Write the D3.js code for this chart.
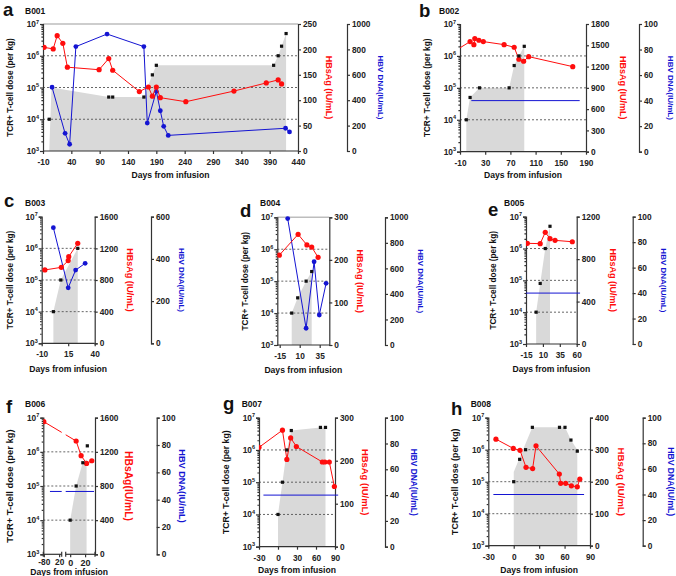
<!DOCTYPE html>
<html>
<head>
<meta charset="utf-8">
<script src="https://cdn.jsdelivr.net/npm/d3@7"></script>
<style>
  body { margin: 0; background: #fff; }
  svg { display: block; }
  text { font-family: "Liberation Sans", Arial, sans-serif; }
</style>
</head>
<body>
<div id="canvas"></div>
<script>
// ---- data: [day, value] pairs ----
// B001
const doseB001  = [[1,1e4],[106,5e4],[113,5e4],[168,5e4],[183,2.5e5],[190,5e5],[397,5e5],[405,1e6],[411,2e6],[419,5e6]];
const areaB001  = [[1,1e3],[5,1e5],[106,5e4],[168,5e4],[183,2.5e5],[190,5e5],[397,5e5],[405,1e6],[411,2e6],[419,5e6],[419,1e3]];
const hbsagB001 = [[-8,204],[8,201],[15,227],[25,212],[33,165],[89,160],[106,182],[113,159],[160,117],[176,126],[183,108],[190,126],[197,105],[242,97],[327,118],[384,134],[405,140],[411,132]];
const hbvB001   = [[6,502],[29,139],[37,53],[48,822],[103,921],[168,822],[174,220],[190,470],[197,317],[203,194],[211,123],[418,179],[425,150]];
// B002
const doseB002  = [[0,1e4],[6,5e4],[21,1e5],[68,1e5],[76,5e5],[83.5,1e6],[92,2e6]];
const areaB002  = [[0,1e3],[0,1e4],[6,5e4],[21,1e5],[68,1e5],[76,5e5],[83.5,1e6],[92,2e6],[92,1e3]];
const hbsagB002 = [[-20,1410],[6,1552],[12,1509],[13.5,1594],[20,1571],[27,1552],[60,1509],[76,1472],[83.5,1303],[91,1275],[99,1340],[169,1199]];
const hbvB002   = [[8,40],[180,40]];
// B003
const doseB003  = [[1,1e4],[8,1e5],[24,1e6]];
const areaB003  = [[1,1e3],[1,1e4],[8,1e5],[24,1e6],[24,1e3]];
const hbsagB003 = [[-7,927],[8.5,960],[15,1045],[15.5,1095],[24,1264]];
const hbvB003   = [[1,548],[15,263],[22,347],[31,379]];
// B004
const doseB004  = [[0,1e4],[7.5,3e4],[18,1e5],[25,2e5]];
const areaB004  = [[0,1e3],[0,1e4],[7.5,3e4],[18,1e5],[25,2e5],[25,1e3]];
const hbsagB004 = [[-15.5,211],[8,260],[19,235],[25,230],[33,206]];
const hbvB004   = [[-5,990],[18,131],[28,652],[34.5,235],[43,483]];
// B005
const doseB005  = [[0,1e4],[6,8e4],[13.5,1e6],[20.5,5e6]];
const areaB005  = [[0,1e3],[0,1e4],[6,8e4],[13.5,1e6],[20.5,5e6],[20.5,1e3]];
const hbsagB005 = [[-13,949],[6,946],[13.5,1053],[20.5,993],[28,977],[53.5,964]];
const hbvB005   = [[-15,40],[65,40]];
// B006
const doseB006  = [[0,1e4],[8,1e5],[17,4.8e5],[23,1.5e6]];
const areaB006  = [[0,1e3],[0,1e4],[8,1e5],[17,5e5],[22,6e5],[22,1e3]];
const hbsagB006 = [[-80,1553],[8,1327],[14.7,1155],[22,1065],[29,1096]];
const hbvB006   = [[-56,46],[32,46]];
// B007
const doseB007  = [[0,1e4],[7,1e5],[14,1e6],[21,4e6],[67,5e6],[75,5e6]];
const areaB007  = [[0,1e3],[0,1e4],[7,1e5],[14,1e6],[21,4e6],[67,5e6],[75,5e6],[75,1e3]];
const hbsagB007 = [[-30,231],[7,271],[14,203],[20,253],[29,233],[70,197],[74,197],[81,197],[89,140]];
const hbvB007   = [[-23,40],[95,40]];
// B008
const doseB008  = [[0,1e5],[7,5e5],[14,1e6],[22,5e6],[54,5e6],[60.5,5e6],[67.5,2e6],[75,9e5]];
const areaB008  = [[0,1e3],[0,2e5],[22,5e6],[60.5,5e6],[67.5,2e6],[75,1e6],[75,1e3]];
const hbsagB008 = [[-21,333],[-0.5,304],[7.4,298],[14.5,245],[22.3,241],[26.3,312],[53.8,224],[55.4,195],[61.3,195],[68,187],[75,184],[78,208]];
const hbvB008   = [[-24,40],[83,40]];

// ---- tick values / labels ----
const xTicksB001 = [-10,40,90,140,190,240,290,340,390,440];
const xTicksB002 = [-10,30,70,110,150,190];
const xTicksB003 = [-10,15,40];
const xTicksB004 = [-15,10,35];
const xTicksB005 = [-15,10,35,60];
const xTicksB006 = [-80,-20,0,20];
const xTickLabelsB006 = ["-80","20","0","20"];
const xTicksB007 = [-30,0,30,60,90];
const xTicksB008 = [-30,0,30,60,90];

const sTicksB001 = [0,50,100,150,200,250];
const sTicksB002 = [0,300,600,900,1200,1500,1800];
const sTicksB003 = [0,400,800,1200,1600];
const sTicksB004 = [0,100,200,300];
const sTicksB005 = [0,400,800,1200];
const sTicksB006 = [0,400,800,1200,1600];
const sTicksB007 = [0,100,200,300];
const sTicksB008 = [0,100,200,300,400];

const vTicks1000 = [0,200,400,600,800,1000];
const vTicks600  = [0,200,400,600];
const vTicks100  = [0,20,40,60,80,100];

const decades = [1e3,1e4,1e5,1e6,1e7];
const gridDecades = [1e4,1e5,1e6];

// ---- panel layout ----
const panels = [
  {id:"B001", letter:"a", lx:3, ly:15.5, tx:25, ty:13.5, xDomain:[-10,440], xRange:[43,298], y0:24, y1:151,
   hbvX:347, yLabX:10.3, sLabX:329, vLabX:380.3, xLabY:178, topLine:true,
   dose:doseB001, area:areaB001, hbsag:hbsagB001, hbv:hbvB001, xTicks:xTicksB001, sTicks:sTicksB001, vTicks:vTicks1000},
  {id:"B002", letter:"b", lx:419, ly:17, tx:439, ty:13.5, xDomain:[-10,190], xRange:[460,586], y0:24, y1:151.7,
   hbvX:639, yLabX:427.3, sLabX:623, vLabX:670, xLabY:178,
   dose:doseB002, area:areaB002, hbsag:hbsagB002, hbv:hbvB002, hbvNoDots:true, xTicks:xTicksB002, sTicks:sTicksB002, vTicks:vTicks100},
  {id:"B003", letter:"c", lx:4, ly:206.7, tx:25, ty:206, xDomain:[-10,40], xRange:[41.7,94.7], y0:216.7, y1:343.3,
   hbvX:151, yLabX:10, sLabX:129.5, vLabX:181.7, xLabY:372,
   dose:doseB003, area:areaB003, hbsag:hbsagB003, hbv:hbvB003, xTicks:xTicksB003, sTicks:sTicksB003, vTicks:vTicks600},
  {id:"B004", letter:"d", lx:240, ly:216.7, tx:260, ty:206, xDomain:[-18,47], xRange:[277.3,329.3], y0:217.3, y1:345,
   hbvX:385, yLabX:245.3, sLabX:359.5, vLabX:420.7, xLabY:373, topLine:true,
   dose:doseB004, area:areaB004, hbsag:hbsagB004, hbv:hbvB004, xTicks:xTicksB004, sTicks:sTicksB004, vTicks:vTicks1000},
  {id:"B005", letter:"e", lx:488, ly:215.7, tx:504, ty:206, xDomain:[-15,60], xRange:[526,576.7], y0:216.7, y1:344,
   hbvX:632.7, yLabX:493, sLabX:613, vLabX:663, xLabY:372,
   dose:doseB005, area:areaB005, hbsag:hbsagB005, hbv:hbvB005, hbvNoDots:true, xTicks:xTicksB005, sTicks:sTicksB005, vTicks:vTicks100},
  {id:"B006", letter:"f", lx:6, ly:413, tx:25, ty:407, xDomain:[-82,-10,-6,33.3], xRange:[43.3,61.7,65.7,95],
   segments:[[43.3,61.7],[65.7,95]], y0:417.7, y1:554.3, hbvX:156.7, yLabX:9.7, sLabX:128, vLabX:181.7, xLabY:575,
   scale:1.15, tickPad:2, sLabel:"HBsAg(IU/mL)", xTickLabels:xTickLabelsB006,
   dose:doseB006, area:areaB006, hbsag:hbsagB006, hbv:hbvB006, hbvNoDots:true, xTicks:xTicksB006, sTicks:sTicksB006, vTicks:vTicks100},
  {id:"B007", letter:"g", lx:223, ly:410, tx:241.7, ty:407, xDomain:[-30,90], xRange:[259,335], y0:417.7, y1:546.7,
   hbvX:385, yLabX:226.3, sLabX:365.5, vLabX:414, xLabY:573, scale:1.05,
   dose:doseB007, area:areaB007, hbsag:hbsagB007, hbv:hbvB007, hbvNoDots:true, xTicks:xTicksB007, sTicks:sTicksB007, vTicks:vTicks100},
  {id:"B008", letter:"h", lx:451, ly:415, tx:470.7, ty:407, xDomain:[-30,90], xRange:[488.3,590], y0:417.7, y1:545.7,
   hbvX:642.7, yLabX:455.3, sLabX:621.7, vLabX:671, xLabY:573, scale:1.08,
   dose:doseB008, area:areaB008, hbsag:hbsagB008, hbv:hbvB008, hbvNoDots:true, xTicks:xTicksB008, sTicks:sTicksB008, vTicks:vTicks100}
];

const RED = "#ff0d0d", BLUE = "#1414d2", AXIS = "#333", GREY = "#d9d9d9";

const svg = d3.select("#canvas")
  .append("svg")
  .attr("width", 676)
  .attr("height", 576)
  .style("background-color", "#fff");

panels.forEach(drawPanel);

function styleAxis(sel) {
  sel.selectAll("path, line").attr("stroke", AXIS).attr("stroke-width", 1.2);
  sel.selectAll("text").attr("font-size", 8.3).attr("font-weight", "bold").attr("fill", "#222");
}

function drawPanel(p) {
  const s = p.scale || 1;
  const g = svg.append("g");
  const x = d3.scaleLinear().domain(p.xDomain).range(p.xRange);
  const y = d3.scaleLog().domain([1e3, 1e7]).range([p.y1, p.y0]);
  const yS = d3.scaleLinear().domain([0, d3.max(p.sTicks)]).range([p.y1, p.y0]);
  const yV = d3.scaleLinear().domain([0, d3.max(p.vTicks)]).range([p.y1, p.y0]);
  const segs = p.segments || [[p.xRange[0], p.xRange[p.xRange.length - 1]]];
  const x0 = segs[0][0], x1 = segs[segs.length - 1][1];

  // clip region (one rect per axis segment)
  const clip = svg.append("clipPath").attr("id", "clip" + p.id);
  segs.forEach((sg, i) => {
    clip.append("rect")
      .attr("x", sg[0]).attr("y", p.y0 - 4)
      .attr("width", sg[1] - sg[0] + (i === segs.length - 1 ? 4 : 0))
      .attr("height", p.y1 - p.y0 + 8);
  });

  // grey cumulative dose area
  g.append("path")
    .datum(p.area)
    .attr("d", d3.area().x(d => x(d[0])).y0(p.y1).y1(d => y(d[1])))
    .attr("fill", GREY);

  if (p.topLine) {
    g.append("line").attr("x1", x0).attr("x2", x1).attr("y1", p.y0).attr("y2", p.y0)
      .attr("stroke", "#bdbdbd").attr("stroke-width", 1.6);
  }

  // dashed grid
  gridDecades.forEach(v => {
    g.append("line")
      .attr("x1", x0).attr("x2", x1)
      .attr("y1", y(v)).attr("y2", y(v))
      .attr("stroke", "#555").attr("stroke-width", 0.9)
      .attr("stroke-dasharray", "2,2");
  });

  // left log axis with minor ticks
  const minors = [];
  [1e3, 1e4, 1e5, 1e6].forEach(d => { for (let k = 2; k <= 9; k++) minors.push(d * k); });
  const la = g.append("g").attr("transform", `translate(${x0},0)`)
    .call(d3.axisLeft(y).tickValues(decades).tickFormat("").tickSize(3));
  styleAxis(la);
  const lm = g.append("g").attr("transform", `translate(${x0},0)`)
    .call(d3.axisLeft(y).tickValues(minors).tickFormat("").tickSize(1.6));
  styleAxis(lm);
  lm.select(".domain").remove();
  decades.forEach(v => {
    const t = g.append("text")
      .attr("x", x0 - 4).attr("y", y(v) + 3)
      .attr("text-anchor", "end")
      .attr("font-size", 8.3).attr("font-weight", "bold").attr("fill", "#222");
    t.append("tspan").text("10");
    t.append("tspan").attr("dy", -3.5).attr("font-size", 5.5).text(Math.round(Math.log10(v)));
  });

  // right axes
  const ra = g.append("g").attr("transform", `translate(${x1},0)`)
    .call(d3.axisRight(yS).tickValues(p.sTicks).tickFormat(d3.format("d")).tickSize(3).tickPadding(2));
  styleAxis(ra);
  const va = g.append("g").attr("transform", `translate(${p.hbvX},0)`)
    .call(d3.axisRight(yV).tickValues(p.vTicks).tickFormat(d3.format("d")).tickSize(3).tickPadding(2));
  styleAxis(va);

  // bottom axis (segments drawn by hand so the break shows)
  const labels = p.xTickLabels || p.xTicks.map(String);
  const ba = g.append("g").attr("transform", `translate(0,${p.y1})`)
    .call(d3.axisBottom(x).tickValues(p.xTicks).tickFormat((d, i) => labels[i])
      .tickSize(3).tickPadding(p.tickPad || 5));
  styleAxis(ba);
  ba.select(".domain").remove();
  if (p.segments) {
    ba.selectAll(".tick text").filter(d => d >= 0)
      .attr("font-family", "Liberation Serif, serif").attr("font-size", 9);
  }
  segs.forEach(sg => {
    g.append("line").attr("x1", sg[0]).attr("x2", sg[1]).attr("y1", p.y1).attr("y2", p.y1)
      .attr("stroke", AXIS).attr("stroke-width", 1.2);
    if (p.segments) {
      [sg[0], sg[1]].forEach(xx => g.append("line").attr("x1", xx).attr("x2", xx)
        .attr("y1", p.y1 - 2.5).attr("y2", p.y1 + 2.5).attr("stroke", AXIS).attr("stroke-width", 1.2));
    }
  });

  // data layer
  const data = g.append("g").attr("clip-path", `url(#clip${p.id})`);

  const vLine = d3.line().x(d => x(d[0])).y(d => yV(d[1]));
  data.append("path").datum(p.hbv).attr("d", vLine)
    .attr("fill", "none").attr("stroke", BLUE).attr("stroke-width", 1);
  if (!p.hbvNoDots) {
    data.selectAll("circle.hbv").data(p.hbv).join("circle")
      .attr("class", "hbv")
      .attr("cx", d => x(d[0])).attr("cy", d => yV(d[1])).attr("r", 2.4)
      .attr("fill", BLUE);
  }

  const sLine = d3.line().x(d => x(d[0])).y(d => yS(d[1]));
  data.append("path").datum(p.hbsag).attr("d", sLine)
    .attr("fill", "none").attr("stroke", RED).attr("stroke-width", 1);
  data.selectAll("circle.hbsag").data(p.hbsag).join("circle")
    .attr("class", "hbsag")
    .attr("cx", d => x(d[0])).attr("cy", d => yS(d[1])).attr("r", 2.6)
    .attr("fill", RED);

  data.selectAll("rect.dose").data(p.dose).join("rect")
    .attr("class", "dose")
    .attr("x", d => x(d[0]) - 1.6).attr("y", d => y(d[1]) - 1.6)
    .attr("width", 3.2).attr("height", 3.2)
    .attr("fill", "#111");

  // text labels
  g.append("text").attr("x", p.lx).attr("y", p.ly)
    .attr("font-family", "Liberation Serif, serif").attr("font-weight", "bold")
    .attr("font-size", 18.5).attr("fill", "#111").text(p.letter);
  g.append("text").attr("x", p.tx).attr("y", p.ty)
    .attr("font-weight", "bold").attr("font-size", 8.5).attr("fill", "#111").text(p.id);

  const midY = (p.y0 + p.y1) / 2;
  g.append("text")
    .attr("transform", `translate(${p.yLabX},${midY}) rotate(-90)`)
    .attr("text-anchor", "middle").attr("dominant-baseline", "central")
    .attr("font-weight", "bold").attr("font-size", 8.2 * s).attr("fill", "#111")
    .text("TCR+ T-cell dose (per kg)");
  g.append("text")
    .attr("transform", `translate(${p.sLabX},${midY}) rotate(90)`)
    .attr("text-anchor", "middle").attr("dominant-baseline", "central")
    .attr("font-weight", "bold").attr("font-size", 9 * s).attr("fill", RED)
    .text(p.sLabel || "HBsAg (IU/mL)");
  g.append("text")
    .attr("transform", `translate(${p.vLabX},${midY}) rotate(90)`)
    .attr("text-anchor", "middle").attr("dominant-baseline", "central")
    .attr("font-weight", "bold").attr("font-size", 8 * s).attr("fill", BLUE)
    .text("HBV DNA(IU/mL)");
  g.append("text")
    .attr("x", (x0 + x1) / 2).attr("y", p.xLabY)
    .attr("text-anchor", "middle")
    .attr("font-weight", "bold").attr("font-size", 8.6).attr("fill", "#111")
    .text("Days from infusion");
}
</script>
</body>
</html>
